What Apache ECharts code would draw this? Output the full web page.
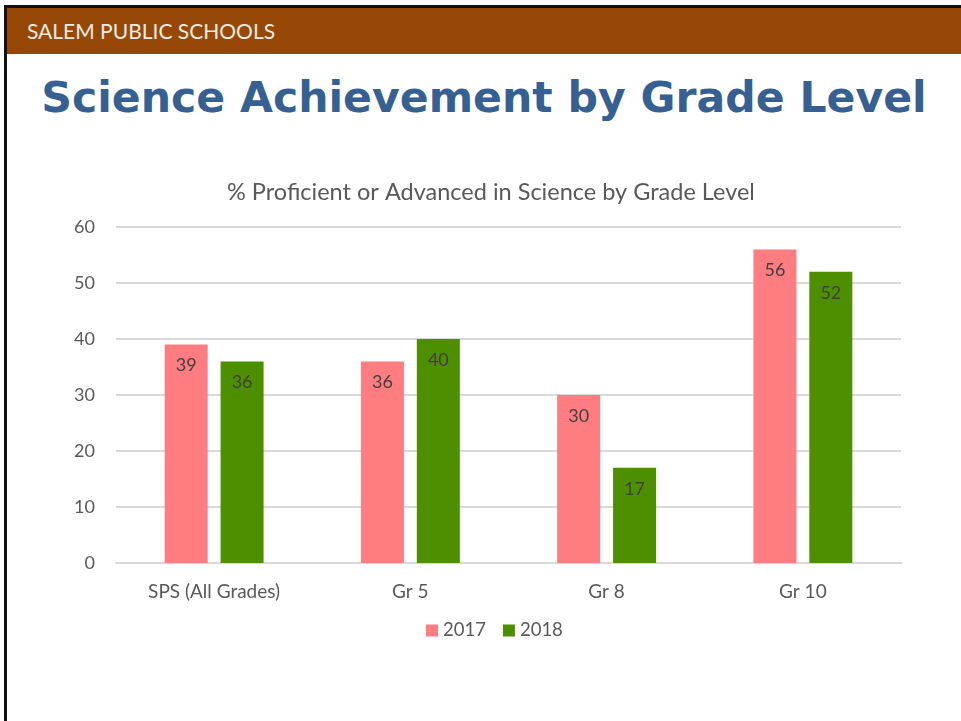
<!DOCTYPE html>
<html>
<head>
<meta charset="utf-8">
<script src="https://cdn.jsdelivr.net/npm/echarts@6/dist/echarts.min.js"></script>
<style>
  html, body { margin: 0; padding: 0; background: #fff; }
  #page { position: relative; width: 961px; height: 721px; overflow: hidden; }
  #frameTop { position: absolute; left: 4px; top: 5px; width: 957px; height: 3px; background: #111; }
  #frameLeft { position: absolute; left: 4px; top: 5px; width: 3px; height: 716px; background: #111; }
  #header { position: absolute; left: 7px; top: 8px; width: 954px; height: 46px; background: #974806;
    color: #f4ebe3; font-family: Lato, sans-serif; font-size: 21px; line-height: 46px; padding-left: 20px; box-sizing: border-box; }
  #heading { position: absolute; left: 0; top: 67px; width: 968px; text-align: center; color: #376092;
    font-family: "DejaVu Sans", sans-serif; font-weight: bold; font-size: 42.6px; line-height: 60px; }
  #chart { position: absolute; left: 0; top: 0; width: 961px; height: 721px; }
</style>
</head>
<body>
<div id="page">
  <div id="frameTop"></div>
  <div id="frameLeft"></div>
  <div id="header">SALEM PUBLIC SCHOOLS</div>
  <div id="heading">Science Achievement by Grade Level</div>
  <div id="chart"></div>
</div>
<script>
const categories = ['SPS (All Grades)', 'Gr 5', 'Gr 8', 'Gr 10']
const values2017 = [39, 36, 30, 56]
const values2018 = [36, 40, 17, 52]

const chart = echarts.init(document.getElementById('chart'))
const font = 'Lato, sans-serif'
const labelStyle = {
  show: true,
  position: 'insideTop',
  distance: 12,
  color: '#404040',
  fontSize: 18,
  fontFamily: font
}

chart.setOption({
  animation: false,
  title: {
    text: '% Proficient or Advanced in Science by Grade Level',
    left: 222,
    top: 175,
    textStyle: { color: '#595959', fontSize: 23.5, fontWeight: 'normal', fontFamily: font }
  },
  legend: {
    data: ['2017', '2018'],
    left: 421,
    top: 616,
    itemWidth: 12,
    itemHeight: 12,
    itemGap: 17,
    icon: 'rect',
    textStyle: { color: '#595959', fontSize: 18.5, fontFamily: font }
  },
  grid: { left: 116, right: 60, top: 227, bottom: 158 },
  xAxis: {
    type: 'category',
    data: categories,
    axisLine: { lineStyle: { color: '#d9d9d9', width: 2 } },
    axisTick: { show: false },
    axisLabel: { color: '#595959', fontSize: 19, fontFamily: font, margin: 19 }
  },
  yAxis: {
    type: 'value',
    min: 0,
    max: 60,
    interval: 10,
    axisLine: { show: false },
    axisTick: { show: false },
    splitLine: { lineStyle: { color: '#d9d9d9', width: 2 } },
    axisLabel: { color: '#595959', fontSize: 18, fontFamily: font, margin: 21 }
  },
  series: [
    {
      name: '2017',
      type: 'bar',
      data: values2017,
      barWidth: 43,
      barGap: '30%',
      itemStyle: { color: '#ff7c80' },
      label: labelStyle
    },
    {
      name: '2018',
      type: 'bar',
      data: values2018,
      barWidth: 43,
      itemStyle: { color: '#4e8f00' },
      label: labelStyle
    }
  ]
})
</script>
</body>
</html>
